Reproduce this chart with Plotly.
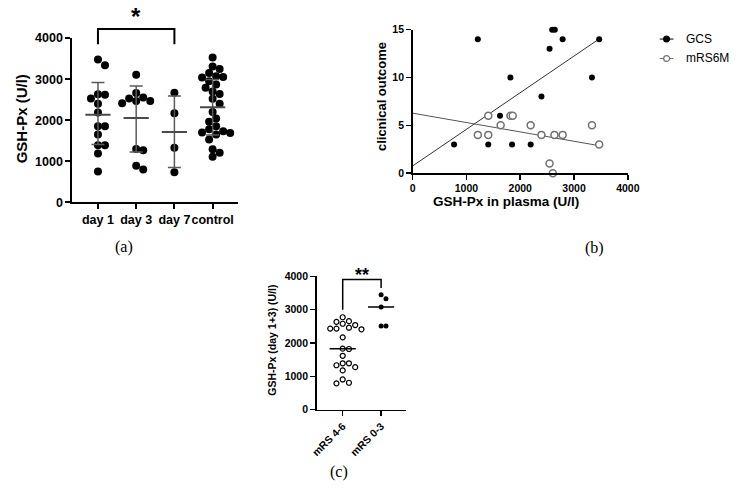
import numpy as np
import plotly.graph_objects as go

W, H = 743, 494

# ---------------- data ----------------
# Panel (a): GSH-Px (U/l) by time point
a_groups = ["day 1", "day 3", "day 7", "control"]
a_day1 = [3340, 3480, 2620, 2635, 2530, 2400, 2190, 1850, 1850, 1650, 1390, 1390, 1190, 750]
a_day3 = [3110, 2660, 2550, 2530, 2470, 2470, 2410, 1300, 1270, 890, 800]
a_day7 = [2670, 2170, 1330, 730]
a_control = [3530, 3310, 3250, 3150, 3070, 3050, 3040, 2950, 2870, 2790, 2700, 2640, 2520,
             2400, 2200, 2040, 1960, 1850, 1780, 1730, 1700, 1690, 1650, 1530, 1290, 1210, 1110]
a_mean = [2135, 2055, 1715, 2315]
a_sd_upper = [2920, 2835, 2590, 2990]
a_sd_lower = [1410, 1225, 845, 1640]

# Panel (b): clinical outcome vs GSH-Px in plasma
b_gcs_x = [770, 1212, 1406, 1624, 1818, 1848, 2194, 2394, 2545, 2594, 2642, 2788, 3333, 3467]
b_gcs_y = [3, 14, 3, 6, 10, 3, 3, 8, 13, 15, 15, 14, 10, 14]
b_mrs_x = [1212, 1406, 1406, 1636, 1818, 1860, 2194, 2394, 2545, 2606, 2636, 2788, 3333, 3467]
b_mrs_y = [4, 6, 4, 5, 6, 6, 5, 4, 1, 0, 4, 4, 5, 3]
b_gcs_fit = [0.75, 0.00383]    # intercept, slope
b_mrs_fit = [6.27, -0.00098]   # intercept, slope
b_series = ["GCS", "mRS6M"]

# Panel (c): GSH-Px (day 1+3) by outcome group
c_groups = ["mRS 4-6", "mRS 0-3"]
c_mrs46 = [2774, 2657, 2636, 2578, 2540, 2460, 2432, 2432, 2412, 2169, 1830, 1819, 1615,
           1390, 1390, 1332, 1274, 1177, 905, 806, 788]
c_mrs03 = [3450, 3330, 3080, 2510, 2510]

# ---------------- layout geometry ----------------
def px(x):
    return x / W

def py(y):
    return 1 - y / H

A_X = [68, 238]; A_Y = [201, 32]
B_X = [416.7, 637.3]; B_Y = [171, 23.3]
C_X = [318.3, 410]; C_Y = [414.3, 277.3]

a_xr = [-0.67, 3.67]; a_yr = [0, 4000]
b_xr = [0, 4000]; b_yr = [0, 15]
c_xr = [-0.68, 1.65]; c_yr = [0, 4000]


def dfrac(v, r):
    return (v - r[0]) / (r[1] - r[0])


def swarm(vals, pp_x, pp_y, diam):
    vals = np.asarray(vals, float)
    step = diam / 2.0
    cands = [0.0]
    for k in range(1, 40):
        cands += [k * step, -k * step]
    placed = []
    off = np.zeros(len(vals))
    for i in np.argsort(-vals, kind="stable"):
        y = vals[i] * pp_y
        for c in cands:
            if all(np.hypot(c - p0, y - p1) >= diam for p0, p1 in placed):
                break
        placed.append((c, y))
        off[i] = c / pp_x
    return off


FONT = "Liberation Sans"
fig = go.Figure()

# ---------------- panel (a) ----------------
a_ppx = (A_X[1] - A_X[0]) / (a_xr[1] - a_xr[0])
a_ppy = (A_Y[0] - A_Y[1]) / (a_yr[1] - a_yr[0])
a_data = [a_day1, a_day3, a_day7, a_control]
for gi, vals in enumerate(a_data):
    off = swarm(vals, a_ppx, a_ppy, 7.2)
    fig.add_trace(go.Scatter(
        x=gi + off, y=vals, mode="markers", xaxis="x", yaxis="y",
        marker=dict(size=8, color="black"), cliponaxis=False, showlegend=False,
        hoverinfo="y"))

mx, my, sx, sy = [], [], [], []
for gi in range(len(a_groups)):
    mx += [gi - 0.33, gi + 0.33, None]
    my += [a_mean[gi], a_mean[gi], None]
    sx += [gi, gi, None, gi - 0.17, gi + 0.17, None, gi - 0.17, gi + 0.17, None]
    sy += [a_sd_lower[gi], a_sd_upper[gi], None, a_sd_upper[gi], a_sd_upper[gi], None,
           a_sd_lower[gi], a_sd_lower[gi], None]
fig.add_trace(go.Scatter(x=sx, y=sy, mode="lines", xaxis="x", yaxis="y",
                         line=dict(color="#5a5a5a", width=1.5), showlegend=False,
                         hoverinfo="skip"))
fig.add_trace(go.Scatter(x=mx, y=my, mode="lines", xaxis="x", yaxis="y",
                         line=dict(color="#4a4a4a", width=2), showlegend=False,
                         hoverinfo="skip"))

# ---------------- panel (b) ----------------
gx = np.array([0, max(b_gcs_x)])
mxr = np.array([0, max(b_mrs_x)])
fig.add_trace(go.Scatter(x=gx, y=b_gcs_fit[0] + b_gcs_fit[1] * gx, mode="lines",
                         xaxis="x2", yaxis="y2", line=dict(color="#333333", width=1),
                         showlegend=False, hoverinfo="skip"))
fig.add_trace(go.Scatter(x=mxr, y=b_mrs_fit[0] + b_mrs_fit[1] * mxr, mode="lines",
                         xaxis="x2", yaxis="y2", line=dict(color="#555555", width=1),
                         showlegend=False, hoverinfo="skip"))
fig.add_trace(go.Scatter(x=b_gcs_x, y=b_gcs_y, mode="markers", xaxis="x2", yaxis="y2",
                         name=b_series[0], marker=dict(size=6, color="black"),
                         cliponaxis=False, showlegend=False))
fig.add_trace(go.Scatter(x=b_mrs_x, y=b_mrs_y, mode="markers", xaxis="x2", yaxis="y2",
                         name=b_series[1],
                         marker=dict(size=7, color="white", line=dict(color="#707070", width=1.5)),
                         cliponaxis=False, showlegend=False))

# ---------------- panel (c) ----------------
c_ppx = (C_X[1] - C_X[0]) / (c_xr[1] - c_xr[0])
c_ppy = (C_Y[0] - C_Y[1]) / (c_yr[1] - c_yr[0])
off46 = swarm(c_mrs46, c_ppx, c_ppy, 6.4)
off03 = swarm(c_mrs03, c_ppx, c_ppy, 5.0)
fig.add_trace(go.Scatter(x=0 + off46, y=c_mrs46, mode="markers", xaxis="x3", yaxis="y3",
                         marker=dict(size=5, color="white", line=dict(color="black", width=1.2)),
                         cliponaxis=False, showlegend=False))
fig.add_trace(go.Scatter(x=1 + off03, y=c_mrs03, mode="markers", xaxis="x3", yaxis="y3",
                         marker=dict(size=5, color="black"),
                         cliponaxis=False, showlegend=False))
c_meds = [float(np.median(c_mrs46)), float(np.median(c_mrs03))]
lx, ly = [], []
for gi, m in enumerate(c_meds):
    lx += [gi - 0.34, gi + 0.34, None]
    ly += [m, m, None]
fig.add_trace(go.Scatter(x=lx, y=ly, mode="lines", xaxis="x3", yaxis="y3",
                         line=dict(color="black", width=1.5), showlegend=False,
                         hoverinfo="skip"))

# ---------------- axes ----------------
def axis_common(lw, size):
    return dict(showline=True, linecolor="black", linewidth=lw, ticks="outside",
                ticklen=5, tickwidth=lw, tickcolor="black", showgrid=False, zeroline=False,
                tickfont=dict(family=FONT, size=size, color="black", weight="bold"),
                fixedrange=True)

fig.update_layout(
    width=W, height=H, autosize=False,
    margin=dict(l=0, r=0, t=0, b=0),
    paper_bgcolor="white", plot_bgcolor="white",
    showlegend=False,
    xaxis=dict(domain=[px(A_X[0]), px(A_X[1])], range=a_xr, anchor="y",
               tickmode="array", tickvals=list(range(len(a_groups))), ticktext=a_groups,
               tickangle=0, **axis_common(2, 12.5)),
    yaxis=dict(domain=[py(A_Y[0]), py(A_Y[1])], range=a_yr, anchor="x",
               tickmode="array", tickvals=[0, 1000, 2000, 3000, 4000],
               **axis_common(2, 12.5)),
    xaxis2=dict(domain=[px(B_X[0]), px(B_X[1])], range=b_xr, anchor="y2",
                tickmode="array", tickvals=[0, 1000, 2000, 3000, 4000], tickangle=0,
                **axis_common(1.5, 10.5)),
    yaxis2=dict(domain=[py(B_Y[0]), py(B_Y[1])], range=b_yr, anchor="x2",
                tickmode="array", tickvals=[0, 5, 10, 15],
                **axis_common(1.5, 10.5)),
    xaxis3=dict(domain=[px(C_X[0]), px(C_X[1])], range=c_xr, anchor="y3",
                tickmode="array", tickvals=[0, 1], ticktext=c_groups, tickangle=-45,
                **axis_common(1.5, 10.5)),
    yaxis3=dict(domain=[py(C_Y[0]), py(C_Y[1])], range=c_yr, anchor="x3",
                tickmode="array", tickvals=[0, 1000, 2000, 3000, 4000],
                **axis_common(1.5, 10.5)),
)

# ---------------- annotations / shapes ----------------
ann = []
shapes = []

def title(text, x, y, size, angle=0):
    ann.append(dict(text=text, x=px(x), y=py(y), xref="paper", yref="paper",
                    showarrow=False, textangle=angle, xanchor="center", yanchor="middle",
                    font=dict(family=FONT, size=size, color="black", weight="bold")))

title("GSH-Px (U/l)", 16, 115, 15, -90)
title("GSH-Px in plasma (U/l)", 512, 200, 13.5)
title("clicnical outcome", 385, 92, 13, -90)
title("GSH-Px (day 1+3) (U/l)", 273, 343, 10.5, -90)

for lab, x, y in [("(a)", 121, 247), ("(b)", 603, 248), ("(c)", 341, 479)]:
    ann.append(dict(text=lab, x=px(x), y=py(y), xref="paper", yref="paper",
                    showarrow=False, xanchor="center", yanchor="middle",
                    font=dict(family="Liberation Serif", size=16, color="black")))

# significance bracket (a): day 1 vs day 7
i0, i1 = a_groups.index("day 1"), a_groups.index("day 7")
xa0, xa1 = dfrac(i0, a_xr), dfrac(i1, a_xr)
ytop, ybot = dfrac(4220, a_yr), dfrac(3850, a_yr)
shapes.append(dict(type="path", xref="x domain", yref="y domain",
                   path=f"M {xa0} {ybot} L {xa0} {ytop} L {xa1} {ytop} L {xa1} {ybot}",
                   line=dict(color="black", width=2)))
ann.append(dict(text="*", xref="x domain", yref="y domain", x=(xa0 + xa1) / 2,
                y=dfrac(4520, a_yr), showarrow=False, yanchor="middle",
                font=dict(family=FONT, size=24, color="black", weight="bold")))

# significance bracket (c)
xc0, xc1 = dfrac(0, c_xr), dfrac(1, c_xr)
ct, cl, cr = dfrac(3905, c_yr), dfrac(2996, c_yr), dfrac(3650, c_yr)
shapes.append(dict(type="path", xref="x3 domain", yref="y3 domain",
                   path=f"M {xc0} {cl} L {xc0} {ct} L {xc1} {ct} L {xc1} {cr}",
                   line=dict(color="black", width=1.5)))
ann.append(dict(text="**", xref="x3 domain", yref="y3 domain", x=(xc0 + xc1) / 2,
                y=dfrac(4050, c_yr), showarrow=False, yanchor="middle",
                font=dict(family=FONT, size=18, color="black", weight="bold")))

# legend for panel (b)
for k, (name, ly_) in enumerate(zip(b_series, [33, 53])):
    col = "black" if k == 0 else "#707070"
    shapes.append(dict(type="line", xref="paper", yref="paper",
                       x0=px(670), x1=px(684), y0=py(ly_), y1=py(ly_),
                       line=dict(color=col, width=1)))
    shapes.append(dict(type="circle", xref="paper", yref="paper",
                       x0=px(674), x1=px(680), y0=py(ly_ + 3), y1=py(ly_ - 3),
                       fillcolor=("black" if k == 0 else "white"),
                       line=dict(color=col, width=1.2)))
    ann.append(dict(text=name, x=px(695), y=py(ly_), xref="paper", yref="paper",
                    showarrow=False, xanchor="left", yanchor="middle",
                    font=dict(family=FONT, size=12, color="black")))

fig.update_layout(annotations=ann, shapes=shapes)

fig.write_html("out.html",
               config={"displayModeBar": False, "staticPlot": True},
               post_script="document.body.style.margin='0px';"
                           "document.documentElement.style.overflow='hidden';")
